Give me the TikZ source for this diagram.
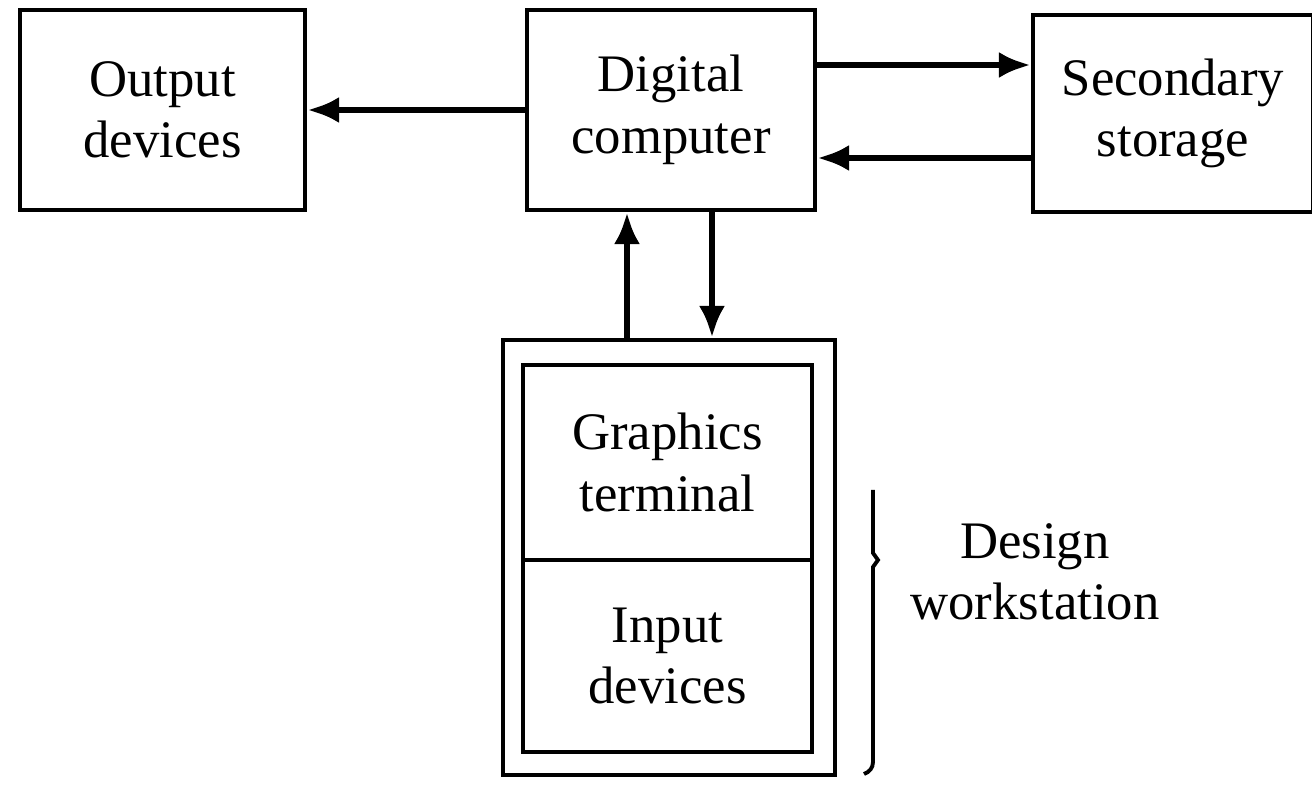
\documentclass[tikz,border=0pt]{standalone}
\usepackage{fontspec}
\setmainfont{Liberation Serif}
\usetikzlibrary{arrows.meta}
\begin{document}
\begin{tikzpicture}[
    blockbox/.style={rectangle, draw, line width=1.2pt, align=center, inner sep=0pt, font=\fontsize{15}{17.5}\selectfont},
    flow/.style={-{Latex[length=3.2mm,width=2.6mm]}, line width=1.8pt}
]
    \useasboundingbox (0,0) rectangle (13.12,-7.85);

    % top row
    \node[blockbox, minimum width=2.85cm, minimum height=2cm] (out) at (1.625,-1.10) {Output\\devices};
    \node[blockbox, minimum width=2.88cm, minimum height=2cm] (comp) at (6.71,-1.10) {Digital\\computer};
    \node[blockbox, minimum width=2.80cm, minimum height=1.97cm] (stor) at (11.73,-1.135) {Secondary\\storage};

    % design workstation
    \node[blockbox, minimum width=3.32cm, minimum height=4.35cm] (ws) at (6.69,-5.575) {};
    \node[blockbox, minimum width=2.89cm, minimum height=1.95cm] (term) at (6.675,-4.625) {Graphics\\terminal};
    \node[blockbox, minimum width=2.89cm, minimum height=1.92cm] (inp) at (6.675,-6.56) {Input\\devices};

    % connections
    \draw[flow] (comp.west) -- (out.east);
    \draw[flow] ([yshift=4.5mm]comp.east) -- ([yshift=4.5mm]comp.east -| stor.west);
    \draw[flow] ([yshift=-4.8mm]comp.east -| stor.west) -- ([yshift=-4.8mm]comp.east);
    \draw[flow] ([xshift=-4.4mm]comp.south |- ws.north) -- ([xshift=-4.4mm]comp.south);
    \draw[flow] ([xshift=4.1mm]comp.south) -- ([xshift=4.1mm]comp.south |- ws.north);

    % brace
    \draw[line width=1.1pt] (8.73,-4.90) -- (8.73,-5.53) -- (8.78,-5.60) -- (8.73,-5.67)
        -- (8.73,-7.62) to[out=-90,in=20] (8.64,-7.74);
    \node[font=\fontsize{15}{17.5}\selectfont, align=center] (dwlabel) at (10.35,-5.72) {Design\\workstation};
\end{tikzpicture}
\end{document}
